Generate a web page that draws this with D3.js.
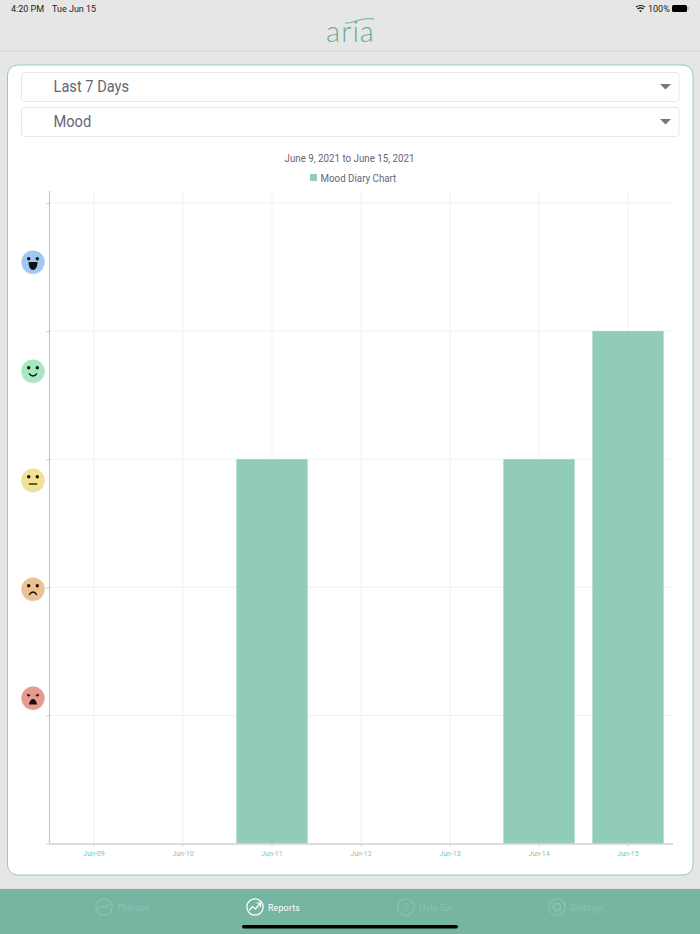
<!DOCTYPE html>
<html>
<head>
<meta charset="utf-8">
<script src="https://cdn.jsdelivr.net/npm/d3@7"></script>
<style>
  html, body { margin: 0; padding: 0; background: #e6e6e6; }
  svg { display: block; font-family: Roboto, sans-serif; opacity: 0.999; }
</style>
</head>
<body>
<div id="chart"></div>
<script>
// Chart data
const days = ['Jun-09', 'Jun-10', 'Jun-11', 'Jun-12', 'Jun-13', 'Jun-14', 'Jun-15'];
const moodValues = [null, null, 3, null, null, 3, 4];
const yTicks = [0, 1, 2, 3, 4, 5];
const moods = ['angry', 'sad', 'neutral', 'happy', 'excited'];
const moodColors = ['#e79a90', '#edc292', '#f2e093', '#a6e8bf', '#9fc9f2'];
const dropdowns = ['Last 7 Days', 'Mood'];
const navItems = ['Therapy', 'Reports', 'Help Bar', 'Settings'];

const svgW = 700, svgH = 934;
const plotLeft = 49.5, plotRight = 672.5, plotTop = 203, axisTop = 191, plotBottom = 843.5;
const teal = '#91ccb8', navColor = '#76b5a1', textColor = '#666674';

const xScale = d3.scaleBand().domain(days).range([plotLeft, plotRight]).paddingInner(0.2).paddingOuter(0.1);
const yScale = d3.scaleLinear().domain([0, 5]).range([plotBottom, plotTop]);
const faceScale = d3.scalePoint().domain(moods).range([698, 262]);
const dropScale = d3.scaleBand().domain(dropdowns).range([72, 136]).paddingInner(0.17);
const navScale = d3.scalePoint().domain(navItems).range([104, 557]);

const svg = d3.select('#chart').append('svg').attr('width', svgW).attr('height', svgH);

// text in the screenshot is a bit narrower than Roboto
const squeeze = (x, y, k = 0.93) => `translate(${x},${y}) scale(${k},1)`;

// Status bar and header
svg.append('rect').attr('width', svgW).attr('height', svgH).attr('fill', '#e6e6e6');
svg.append('rect').attr('y', 50.5).attr('width', svgW).attr('height', 1.5).attr('fill', '#d8d8d8');
svg.append('text').attr('x', 11).attr('y', 11.5).attr('font-size', 9).attr('fill', '#222').text('4:20 PM');
svg.append('text').attr('x', 52).attr('y', 11.5).attr('font-size', 9).attr('fill', '#222').text('Tue Jun 15');
svg.append('text').attr('x', 648).attr('y', 11.5).attr('font-size', 9).attr('fill', '#222').text('100%');
const wifi = svg.append('g').attr('transform', 'translate(640.5,11.5)').attr('fill', 'none').attr('stroke', '#111').attr('stroke-width', 1.2);
wifi.append('path').attr('d', 'M-4.5,-4.5 Q0,-7.5 4.5,-4.5');
wifi.append('path').attr('d', 'M-3,-2.5 Q0,-4.6 3,-2.5');
wifi.append('path').attr('d', 'M-1.4,-0.8 L0,0.8 L1.4,-0.8 Q0,-1.8 -1.4,-0.8Z').attr('fill', '#111').attr('stroke', 'none');
svg.append('rect').attr('x', 672).attr('y', 5).attr('width', 15).attr('height', 7).attr('rx', 1.5).attr('fill', '#000');
svg.append('rect').attr('x', 687.5).attr('y', 7).attr('width', 1).attr('height', 3).attr('fill', '#888');

// Logo
svg.append('text').attr('x', 350.5).attr('y', 42).attr('text-anchor', 'middle')
   .attr('font-family', 'Lato, sans-serif').attr('font-weight', 300).attr('font-size', 29)
   .attr('letter-spacing', 1).attr('fill', '#67b096').text('aria');
svg.append('path').attr('d', 'M345,23 C352,24 360,17 374,19').attr('fill', 'none').attr('stroke', '#67b096').attr('stroke-width', 1);

// Card
svg.append('rect').attr('x', 7.5).attr('y', 65).attr('width', 685.5).attr('height', 810)
   .attr('rx', 10).attr('fill', '#fff').attr('stroke', teal).attr('stroke-width', 1);

// Dropdowns
const drops = svg.selectAll('.drop').data(dropdowns).enter().append('g').attr('class', 'drop')
   .attr('transform', d => `translate(21,${dropScale(d)})`);
drops.append('rect').attr('x', 0.5).attr('y', 0.5).attr('width', 657.5).attr('height', dropScale.bandwidth())
   .attr('rx', 3).attr('fill', '#fff').attr('stroke', '#e8e8e8');
drops.append('text').attr('transform', squeeze(32.5, 20, 0.915)).attr('font-size', 16).attr('fill', textColor).text(d => d);
drops.append('path').attr('d', 'M639,12 L650,12 L644.5,17.5Z').attr('fill', '#777');

// Title and legend
svg.append('text').attr('transform', squeeze(349.5, 162)).attr('text-anchor', 'middle').attr('font-size', 10.5).attr('fill', textColor)
   .text('June 9, 2021 to June 15, 2021');
svg.append('rect').attr('x', 310).attr('y', 174).attr('width', 7).attr('height', 7).attr('fill', teal);
svg.append('text').attr('transform', squeeze(320.5, 181.5)).attr('font-size', 10.5).attr('fill', textColor).text('Mood Diary Chart');

// Grid
svg.append('g').selectAll('line').data(yTicks.slice(1)).enter().append('line')
   .attr('x1', plotLeft).attr('x2', plotRight).attr('y1', d => yScale(d)).attr('y2', d => yScale(d))
   .attr('stroke', '#f1f1f1');
svg.append('g').selectAll('line').data(days).enter().append('line')
   .attr('x1', d => xScale(d) + xScale.bandwidth() / 2).attr('x2', d => xScale(d) + xScale.bandwidth() / 2)
   .attr('y1', axisTop).attr('y2', plotBottom).attr('stroke', '#f1f1f1');

// Bars
svg.selectAll('.bar').data(days.map((d, i) => [d, moodValues[i]]).filter(d => d[1] !== null)).enter().append('rect')
   .attr('class', 'bar')
   .attr('x', d => xScale(d[0]))
   .attr('y', d => yScale(d[1]))
   .attr('width', xScale.bandwidth())
   .attr('height', d => plotBottom - yScale(d[1]))
   .attr('fill', teal);

// Axes
const xAxis = d3.axisBottom(xScale).tickSize(3).tickSizeOuter(0).tickPadding(5);
const yAxis = d3.axisLeft(yScale).tickValues(yTicks).tickSize(3).tickSizeOuter(0).tickFormat('');
const gx = svg.append('g').attr('transform', `translate(0,${plotBottom})`).call(xAxis);
gx.select('.domain').attr('stroke', '#d0d0d0').attr('stroke-width', 1.5);
gx.selectAll('.tick line').attr('stroke', '#d0d0d0');
gx.selectAll('.tick text').attr('font-family', 'Roboto, sans-serif').attr('font-size', 7).attr('fill', '#86c4ae');
const gy = svg.append('g').attr('transform', `translate(${plotLeft},0)`).call(yAxis);
gy.select('.domain').attr('d', `M0,${axisTop}V${plotBottom}`).attr('stroke', '#c8c8c8').attr('stroke-width', 1.2);
gy.selectAll('.tick line').attr('stroke', '#c4c4c4');

// Mood faces on the y axis
const faces = svg.selectAll('.face').data(moods).enter().append('g').attr('class', 'face')
   .attr('transform', d => `translate(33,${faceScale(d)})`);
faces.append('circle').attr('cy', 0.6).attr('r', 11.8).attr('fill', '#000').attr('opacity', 0.12);
faces.append('circle').attr('r', 11.5).attr('fill', (d, i) => moodColors[i]);
faces.append('circle').attr('cx', -4.3).attr('cy', -3.3).attr('r', 1.7).attr('fill', '#111');
faces.append('circle').attr('cx', 4.3).attr('cy', -3.3).attr('r', 1.7).attr('fill', '#111');
const mouths = {
  angry: 'M-4,6.5 Q-3,1 0,1 Q3,1 4,6.5Z',
  sad: 'M-4,6 Q0,0 4,6',
  neutral: 'M-4.2,4 L4.2,4',
  happy: 'M-4,2.5 Q0,7.5 4,2.5',
  excited: 'M-4.5,0 L4.5,0 Q4,8 0,8 Q-4,8 -4.5,0Z'
};
faces.append('path').attr('d', d => mouths[d])
   .attr('fill', d => (d === 'angry' || d === 'excited') ? '#111' : 'none')
   .attr('stroke', '#111').attr('stroke-width', d => (d === 'angry' || d === 'excited') ? 0 : 1.3);
faces.filter(d => d === 'angry').append('path').attr('d', 'M-6,-5.2 L-2.5,-3.8 M6,-5.2 L2.5,-3.8')
   .attr('stroke', '#e79a90').attr('stroke-width', 1.6);

// Bottom nav
svg.append('rect').attr('y', 889).attr('width', svgW).attr('height', 45).attr('fill', navColor);
svg.append('rect').attr('y', 888).attr('width', svgW).attr('height', 1).attr('fill', '#ddd');
const nav = svg.selectAll('.nav').data(navItems).enter().append('g').attr('class', 'nav')
   .attr('transform', d => `translate(${navScale(d)},907)`)
   .attr('opacity', d => d === 'Reports' ? 1 : 0.16)
   .attr('fill', 'none').attr('stroke', '#fff');
nav.append('circle').attr('r', 8.2).attr('stroke-width', 1.2);
nav.append('text').attr('transform', squeeze(13, 3.5)).attr('font-size', 9.5).attr('fill', '#fff').attr('stroke', 'none')
   .attr('letter-spacing', 0.2).text(d => d);
nav.filter(d => d === 'Reports').append('path').attr('d', 'M-6,3.5 L-2.5,-0.5 L0.5,2 L5,-3.5 M1.5,-4 L5.5,-4 L5.5,0').attr('stroke-width', 1.2);
nav.filter(d => d === 'Therapy').append('path').attr('d', 'M-6,2 C-3,-4 0,3 6,-3').attr('stroke-width', 1.2);
nav.filter(d => d === 'Help Bar').append('text').attr('y', 4).attr('text-anchor', 'middle')
   .attr('font-size', 11).attr('fill', '#fff').attr('stroke', 'none').text('?');
nav.filter(d => d === 'Settings').append('circle').attr('r', 3.5).attr('stroke-width', 2);

// Home indicator
svg.append('rect').attr('x', 242).attr('y', 925).attr('width', 216).attr('height', 3.5).attr('rx', 1.7).attr('fill', '#000');
</script>
</body>
</html>
